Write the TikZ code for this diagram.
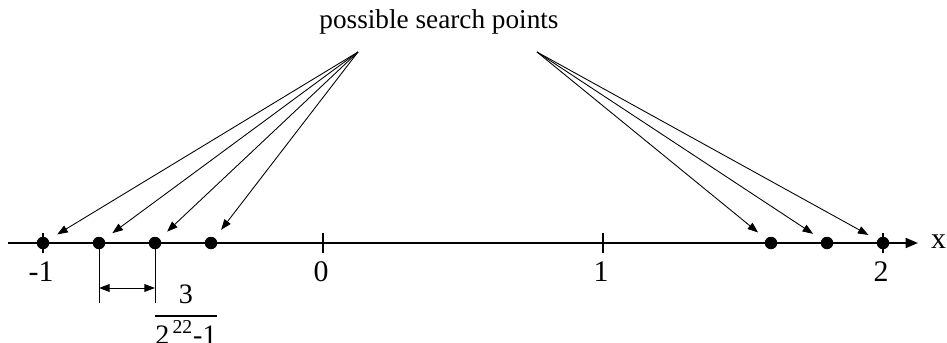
\documentclass[tikz,border=0pt]{standalone}
\usepackage{fontspec}
\usepackage{amsmath}
\setmainfont{Liberation Serif}
\usetikzlibrary{arrows.meta}

\begin{document}
\begin{tikzpicture}[font=\fontsize{15.5}{18}\selectfont,
  pt/.style={circle, fill, inner sep=0pt, minimum size=0.25cm},
  ptr/.style={-{Triangle[length=6pt,width=4.4pt]}, line width=0.5pt, shorten >=0.2cm},
  dim/.style={line width=0.5pt}]

\useasboundingbox (0,0) rectangle (18.94,6.84);

% --- Dimensions ---
\def\U{5.6}
\def\Ox{6.46}
\def\Ay{1.98}

% --- Axe ---
\coordinate (axl) at (0.16,\Ay);
\coordinate (axr) at (18.36,\Ay);
\draw[line width=1.1pt, -{Triangle[length=7pt,width=5.6pt]}] (axl) -- (axr);
\node[anchor=west, font=\fontsize{17}{20}\selectfont] (xlab) at (18.5,\Ay+0.02) {x};

% --- Graduations ---
\foreach \v/\t in {-1/-1,0/0,1/1,2/2} {
  \draw[line width=1pt] (\Ox+\v*\U,\Ay-0.2) -- (\Ox+\v*\U,\Ay+0.2);
  \node[font=\fontsize{17}{20}\selectfont] (lab\v) at (\Ox+\v*\U-0.04,1.4) {\t};
}

% --- Points ---
\foreach \v/\n in {-1/p1,-0.8/p2,-0.6/p3,-0.4/p4,1.6/p5,1.8/p6,2/p7}
  \node[pt] (\n) at (\Ox+\v*\U,\Ay) {};

% --- Titre et fleches ---
\node (title) at (8.78,6.4) {possible search points};
\coordinate (srcl) at (7.16,5.8);
\coordinate (srcr) at (10.74,5.8);
\foreach \n in {p1,p2,p3,p4} \draw[ptr] (srcl) -- (\n);
\foreach \n in {p5,p6,p7} \draw[ptr] (srcr) -- (\n);

% --- Cote ---
\draw[dim] (p2.center) -- ++(0,-1.2) coordinate (p2b);
\draw[dim] (p3.center) -- ++(0,-1.2) coordinate (p3b);
\coordinate (dl) at ([yshift=-0.9cm]p2.center);
\coordinate (dr) at ([yshift=-0.9cm]p3.center);
\draw[dim, {Triangle[length=6pt,width=4.4pt]}-{Triangle[length=6pt,width=4.4pt]}] (dl) -- (dr);
\node[font=\fontsize{16}{19}\selectfont] (frac) at (3.72,0.55)
  {$\dfrac{\text{3}}{\text{2}^{\,\text{22}}\text{-1}}$};

\end{tikzpicture}
\end{document}
